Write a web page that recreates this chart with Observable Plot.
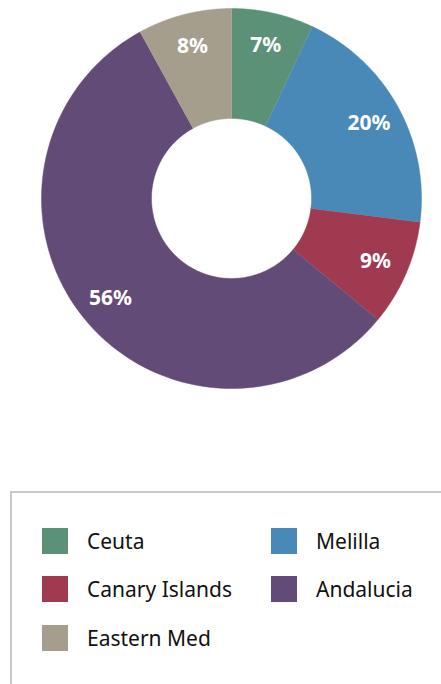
<!DOCTYPE html>
<html><head><meta charset="utf-8">
<script src="https://cdn.jsdelivr.net/npm/d3@7"></script>
<script src="https://cdn.jsdelivr.net/npm/@observablehq/plot@0.6"></script>
<style>
body{margin:0;background:#fff;font-family:"Noto Sans",sans-serif;width:441px;height:684px;overflow:hidden;}
#legend{margin-top:91px;margin-left:10px;border:2px solid #c9c9c9;border-right:none;height:220px;box-sizing:border-box;position:relative;}
.item{position:absolute;display:flex;align-items:center;font-size:21px;line-height:26px;color:#111;}
.sw{width:26px;height:26px;margin-right:19px;flex:none;}
</style></head>
<body>
<div id="chart"></div>
<div id="legend"></div>
<script>
const names = ["Ceuta","Melilla","Canary Islands","Andalucia","Eastern Med"];
const values = [7,20,9,56,8];
const colors = ["#5b9277","#4889b8","#9f3a50","#634b78","#a69e8d"];
const labels = ["7%","20%","9%","56%","8%"];

const R = 190, r0 = 80, rLabel = 157;
const pie = d3.pie().sort(null).value(d => d.value)(names.map((n,i)=>({name:n,value:values[i],label:labels[i]})));
const ring = [];
for (const a of pie) {
  const n = 120;
  for (let k=0;k<=n;k++){const t=a.startAngle+(a.endAngle-a.startAngle)*k/n; ring.push({name:a.data.name,x:R*Math.sin(t),y:R*Math.cos(t)});}
  for (let k=n;k>=0;k--){const t=a.startAngle+(a.endAngle-a.startAngle)*k/n; ring.push({name:a.data.name,x:r0*Math.sin(t),y:r0*Math.cos(t)});}
}
const labelPts = pie.map(a=>{const t=(a.startAngle+a.endAngle)/2; return {label:a.data.label,x:rLabel*Math.sin(t),y:rLabel*Math.cos(t)};});

const W = 441, H = 400, cx = 231, cy = 198;
const chart = Plot.plot({
  width: W, height: H, margin: 0,
  x: {domain: [-cx, W-cx], axis: null},
  y: {domain: [-(H-cy), cy], axis: null},
  color: {domain: names, range: colors},
  marks: [
    Plot.line(ring, {x:"x", y:"y", z:"name", fill:"name", stroke:"name", strokeWidth:0.5}),
    Plot.text(labelPts, {x:"x", y:"y", text:"label", fill:"white", fontSize:21, fontWeight:"bold", fontFamily:"Noto Sans"})
  ]
});
document.getElementById("chart").append(chart);

const pos = [[30,35],[259,35],[30,83],[259,83],[30,132]];
const leg = document.getElementById("legend");
names.forEach((n,i)=>{
  const d=document.createElement("div");d.className="item";
  d.style.left=pos[i][0]+"px";d.style.top=pos[i][1]+"px";
  d.innerHTML=`<div class="sw" style="background:${colors[i]}"></div><span>${n}</span>`;
  leg.append(d);
});
</script>
</body></html>
